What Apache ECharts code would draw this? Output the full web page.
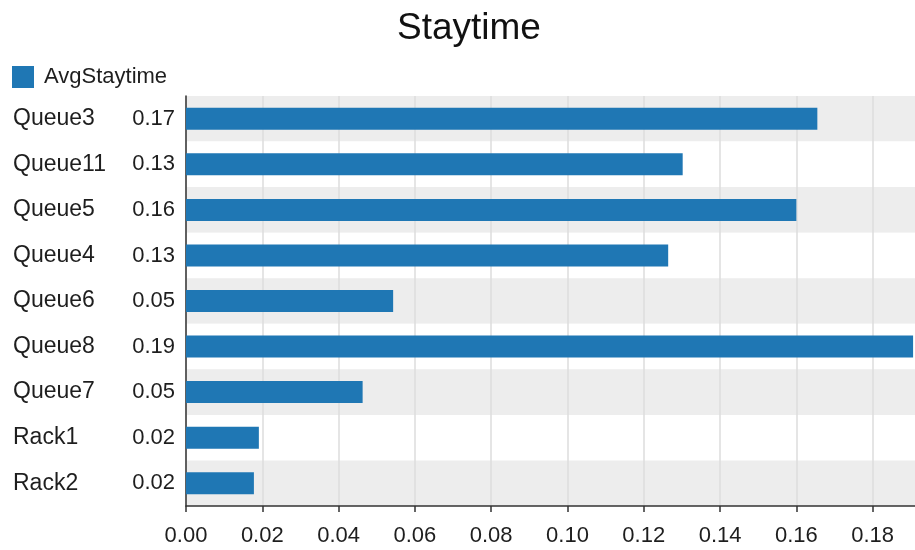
<!DOCTYPE html>
<html>
<head>
<meta charset="utf-8">
<title>Staytime</title>
<script src="https://cdn.jsdelivr.net/npm/echarts@6/dist/echarts.min.js"></script>
<style>
  html, body { margin: 0; padding: 0; background: #fff; }
  #chart { width: 915px; height: 550px; }
</style>
</head>
<body>
<div id="chart"></div>
<script>
// Average stay time per station
const categories = ['Queue3', 'Queue11', 'Queue5', 'Queue4', 'Queue6', 'Queue8', 'Queue7', 'Rack1', 'Rack2'];
const avgStaytime = [0.1655, 0.1302, 0.1600, 0.1264, 0.0543, 0.1906, 0.0463, 0.0191, 0.0178];
const seriesName = 'AvgStaytime';
const titleText = 'Staytime';

const FONT = "'Liberation Sans', Arial, sans-serif";
const TEXT = '#1e1e1e';

const chart = echarts.init(document.getElementById('chart'), null, { renderer: 'canvas' });

chart.setOption({
  animation: false,
  backgroundColor: '#ffffff',
  textStyle: { fontFamily: FONT },
  title: {
    text: titleText,
    left: 392,
    top: 5,
    textStyle: { fontFamily: FONT, fontSize: 37, fontWeight: 'normal', color: '#111' }
  },
  legend: {
    data: [seriesName],
    left: 7,
    top: 61,
    itemWidth: 22,
    itemHeight: 22,
    icon: 'rect',
    textStyle: { fontFamily: FONT, fontSize: 22, color: TEXT, padding: [0, 0, 0, 5] }
  },
  grid: { left: 186, right: 0, top: 96, bottom: 44, containLabel: false },
  xAxis: {
    type: 'value',
    min: 0,
    max: 0.1911,
    interval: 0.02,
    axisLine: { show: true, lineStyle: { color: '#333', width: 1.5 } },
    axisTick: { show: true, length: 6, lineStyle: { color: '#333', width: 1.5 } },
    axisLabel: {
      fontFamily: FONT, fontSize: 22, color: TEXT, margin: 19,
      showMaxLabel: false,
      formatter: v => v.toFixed(2)
    },
    splitLine: { show: true, showMaxLine: false, lineStyle: { color: '#dcdcdc', width: 1.5 } }
  },
  yAxis: {
    type: 'category',
    inverse: true,
    data: categories,
    axisLine: { show: true, lineStyle: { color: '#333', width: 1.5 } },
    axisTick: { show: false },
    splitArea: { show: true, areaStyle: { color: ['#ededed', '#ffffff'] } },
    axisLabel: {
      margin: 11,
      formatter: (name, idx) => '{n|' + name + '}{v|' + avgStaytime[idx].toFixed(2) + '}',
      rich: {
        n: { width: 115, align: 'left', fontFamily: FONT, fontSize: 23, color: TEXT },
        v: { width: 47, align: 'right', fontFamily: FONT, fontSize: 22, color: TEXT }
      }
    }
  },
  series: [{
    name: seriesName,
    type: 'bar',
    data: avgStaytime,
    barWidth: 22,
    itemStyle: { color: '#1f77b4' }
  }]
});
</script>
</body>
</html>
